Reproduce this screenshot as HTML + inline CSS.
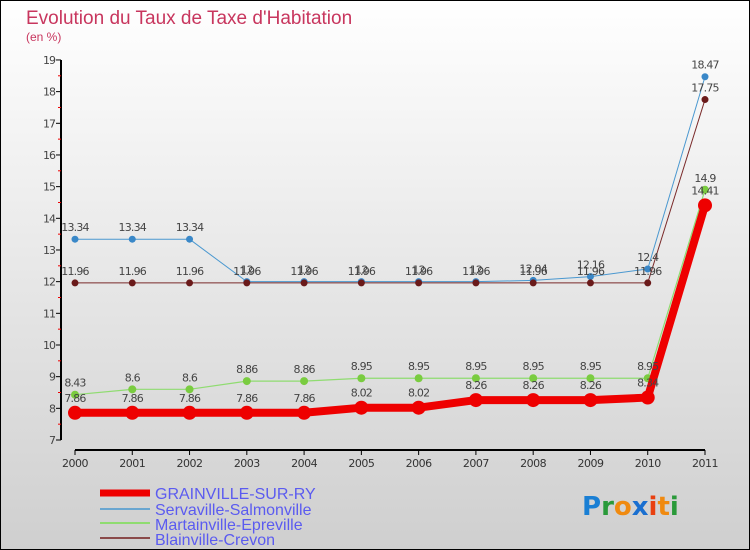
<!DOCTYPE html>
<html><head><meta charset="utf-8"><style>
body{margin:0;width:750px;height:550px;overflow:hidden}
svg{display:block;font-family:"DejaVu Sans","Liberation Sans",sans-serif}
</style></head><body>
<svg id="chart" width="750" height="550">
<defs><linearGradient id="bg" x1="0" y1="0" x2="0" y2="1"><stop offset="0" stop-color="#ffffff"/><stop offset="1" stop-color="#cfcfcf"/></linearGradient></defs>
<rect x="0.5" y="0.5" width="749" height="549" fill="url(#bg)" stroke="#000"/>
<text x="26" y="24" font-size="19" fill="#c8365e" font-family="Liberation Sans, sans-serif">Evolution du Taux de Taxe d'Habitation</text>
<text x="26" y="41" font-size="12" fill="#c8365e" font-family="Liberation Sans, sans-serif">(en %)</text>
<g id="axes"></g><g id="series"></g><g id="labels"></g>
<g font-size="16" fill="#5b5bf0" font-family="Liberation Sans, sans-serif">
<line x1="100" y1="493" x2="150" y2="493" stroke="#ee0000" stroke-width="7"/>
<text x="155" y="499">GRAINVILLE-SUR-RY</text>
<line x1="100" y1="509" x2="150" y2="509" stroke="#6aa6d0" stroke-width="2"/>
<text x="155" y="515">Servaville-Salmonville</text>
<line x1="100" y1="523" x2="150" y2="523" stroke="#8fdc70" stroke-width="2"/>
<text x="155" y="530">Martainville-Epreville</text>
<line x1="100" y1="538" x2="150" y2="538" stroke="#8a4a4a" stroke-width="2"/>
<text x="155" y="545">Blainville-Crevon</text>
</g>
<g font-size="26" font-weight="bold">
<text x="582" y="515"><tspan fill="#1a7fd4">P</tspan><tspan fill="#2a9a3a">r</tspan><tspan fill="#f08a10">o</tspan><tspan fill="#1a6fd0">x</tspan><tspan fill="#e84010">i</tspan><tspan fill="#f08a10">t</tspan><tspan fill="#2a9a3a">i</tspan></text>
</g>
</svg>
<script>
const years=[2000,2001,2002,2003,2004,2005,2006,2007,2008,2009,2010,2011];
const yTicks=[7,8,9,10,11,12,13,14,15,16,17,18,19];
const grainville=[7.86,7.86,7.86,7.86,7.86,8.02,8.02,8.26,8.26,8.26,8.34,14.41];
const servaville=[13.34,13.34,13.34,12,12,12,12,12,12.04,12.16,12.4,18.47];
const martainville=[8.43,8.6,8.6,8.86,8.86,8.95,8.95,8.95,8.95,8.95,8.95,14.9];
const blainville=[11.96,11.96,11.96,11.96,11.96,11.96,11.96,11.96,11.96,11.96,11.96,17.75];
const NS='http://www.w3.org/2000/svg';
const xS=i=>75+i*(630/11);
const yS=v=>440-(v-7)*31.67;
function mk(tag,attrs,parent,text){const e=document.createElementNS(NS,tag);for(const k in attrs)e.setAttribute(k,attrs[k]);if(text!==undefined)e.textContent=text;parent.appendChild(e);return e;}
const axes=document.getElementById('axes'),ser=document.getElementById('series'),lab=document.getElementById('labels');
let a=mk('line',{x1:61,y1:yS(19),x2:61,y2:yS(7),stroke:'#000','stroke-width':2},axes);


yTicks.forEach(t=>{
 let l=mk('line',{x1:56,y1:yS(t),x2:61,y2:yS(t),stroke:'#000'},axes);
 
 
 if(t<19){let m=mk('line',{x1:58,y1:yS(t+0.5),x2:61,y2:yS(t+0.5),stroke:'#e00'},axes);
 
 }
 let tx=mk('text',{x:55,y:yS(t)+4,'text-anchor':'end','font-size':11,fill:'#444','letter-spacing':'-1'},axes,t);
 
 
});
let xa=mk('line',{x1:75,y1:450,x2:705,y2:450,stroke:'#000','stroke-width':2},axes);


years.forEach((y,i)=>{
 let l=mk('line',{x1:xS(i),y1:450,x2:xS(i),y2:455,stroke:'#000'},axes);
 
 
 let t=mk('text',{x:xS(i),y:467,'text-anchor':'middle','font-size':11,fill:'#333','letter-spacing':'-0.5'},axes,y);
 
 
});
function series(vals,color,w,r,name,dot,lblOff){
 const pts=vals.map((v,i)=>xS(i)+','+yS(v)).join(' ');
 let pl=mk('polyline',{points:pts,fill:'none',stroke:color,'stroke-width':w,'stroke-linejoin':'round'},ser);
 
 
 vals.forEach((v,i)=>{
  let c=mk('circle',{cx:xS(i),cy:yS(v),r:r,fill:dot},ser);
  
  
  let t=mk('text',{x:xS(i),y:yS(v)-lblOff,'text-anchor':'middle','font-size':11,fill:'#444','letter-spacing':'-0.8'},lab,v);
  
  
 });
}
series(servaville,'#4a98d0',1,3.5,'servaville','#3a88c8',8);
series(blainville,'#7a2a2a',1,3.5,'blainville','#6a1a1a',8);
series(martainville,'#8fdc70',1.2,4,'martainville','#7acc40',8);
series(grainville,'#ee0000',8,7,'grainville','#ee0000',11);
</script>
</body></html>
